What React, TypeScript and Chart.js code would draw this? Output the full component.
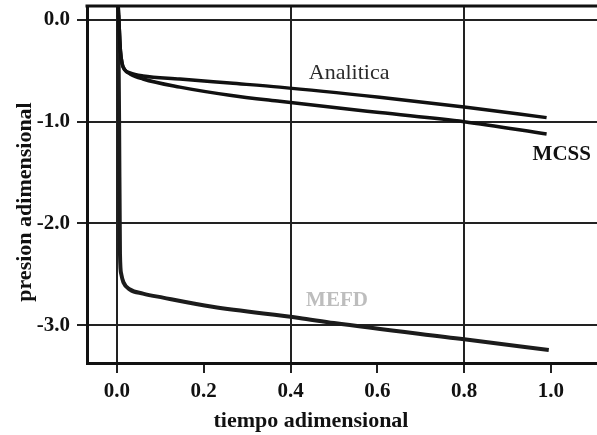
import React, { useEffect, useRef } from "react";
import { Chart, registerables } from "chart.js";

Chart.register(...registerables);

// ---- data ----
const X_TICKS = [0, 0.2, 0.4, 0.6, 0.8, 1.0];
const X_GRID = [0, 0.4, 0.8];
const Y_TICKS = [0, -1, -2, -3];

const ANALITICA_T = [0.003, 0.005, 0.008, 0.012, 0.018, 0.03, 0.06, 0.145, 0.26, 0.375, 0.605, 0.8, 0.99];
const ANALITICA_P = [0.13, -0.05, -0.3, -0.43, -0.49, -0.52, -0.55, -0.58, -0.62, -0.66, -0.76, -0.855, -0.96];

const MCSS_T = [0.003, 0.005, 0.008, 0.012, 0.018, 0.03, 0.06, 0.145, 0.26, 0.375, 0.605, 0.8, 0.99];
const MCSS_P = [0.13, -0.05, -0.3, -0.43, -0.49, -0.53, -0.58, -0.66, -0.74, -0.8, -0.91, -1.0, -1.12];

const MEFD_T = [0.003, 0.005, 0.007, 0.01, 0.015, 0.03, 0.06, 0.106, 0.22, 0.42, 0.5, 0.8, 0.995];
const MEFD_P = [0.05, -1.0, -2.3, -2.5, -2.58, -2.65, -2.69, -2.73, -2.82, -2.93, -2.98, -3.14, -3.245];

const SERIES_NAMES = ["Analitica", "MCSS", "MEFD"];
const X_TITLE = "tiempo adimensional";
const Y_TITLE = "presion adimensional";

const toPts = (t: number[], p: number[]) => t.map((v, i) => ({ x: v, y: p[i] }));

const SERIF = '"Liberation Serif", "Times New Roman", serif';

const decorPlugin = {
  id: "decor",
  afterDraw(chart: any) {
    const { ctx, chartArea, scales } = chart;
    const xs = scales.x;
    const ys = scales.y;
    ctx.save();
    // top frame line
    ctx.strokeStyle = "#111";
    ctx.lineWidth = 3;
    ctx.beginPath();
    ctx.moveTo(chartArea.left - 1.5, chartArea.top);
    ctx.lineTo(chart.width, chartArea.top);
    ctx.stroke();

    ctx.textAlign = "center";
    ctx.textBaseline = "middle";

    // curve labels
    ctx.fillStyle = "#2a2a2a";
    ctx.font = `22px ${SERIF}`;
    ctx.fillText(SERIES_NAMES[0], xs.getPixelForValue(0.535), ys.getPixelForValue(-0.52));
    ctx.fillStyle = "#111";
    ctx.font = `bold 21px ${SERIF}`;
    ctx.fillText(SERIES_NAMES[1], xs.getPixelForValue(1.025), ys.getPixelForValue(-1.32));
    ctx.fillStyle = "#bdbdbd";
    ctx.font = `bold 21px ${SERIF}`;
    ctx.fillText(SERIES_NAMES[2], xs.getPixelForValue(0.507), ys.getPixelForValue(-2.76));

    // axis titles
    ctx.fillStyle = "#111";
    ctx.font = `bold 22px ${SERIF}`;
    ctx.fillText(X_TITLE, 311, 421);
    ctx.translate(25, 202);
    ctx.rotate(-Math.PI / 2);
    ctx.fillText(Y_TITLE, 0, 0);
    ctx.restore();
  },
};

export default function App() {
  const ref = useRef<HTMLCanvasElement | null>(null);

  useEffect(() => {
    if (!ref.current) return;
    const lineDs = (label: string, t: number[], p: number[], w: number, color: string) => ({
      label,
      data: toPts(t, p),
      borderColor: color,
      backgroundColor: color,
      borderWidth: w,
      pointRadius: 0,
      cubicInterpolationMode: "monotone" as const,
      fill: false,
    });

    const chart = new Chart(ref.current, {
      type: "line",
      data: {
        datasets: [
          lineDs(SERIES_NAMES[0], ANALITICA_T, ANALITICA_P, 3.5, "#111"),
          lineDs(SERIES_NAMES[1], MCSS_T, MCSS_P, 3.5, "#111"),
          lineDs(SERIES_NAMES[2], MEFD_T, MEFD_P, 4, "#1c1c1c"),
        ],
      },
      options: {
        responsive: false,
        animation: false,
        layout: { padding: { top: 6, left: 0, right: 0, bottom: 0 } },
        plugins: { legend: { display: false }, tooltip: { enabled: false } },
        scales: {
          x: {
            type: "linear",
            min: -0.069,
            max: -0.069 + 510 / 434,
            afterBuildTicks: (s: any) => {
              s.ticks = X_TICKS.map((v) => ({ value: v }));
            },
            afterFit: (s: any) => {
              s.height = 72;
              s.paddingLeft = 0;
              s.paddingRight = 0;
            },
            border: { display: true, color: "#111", width: 3 },
            grid: {
              color: (c: any) =>
                c.tick && X_GRID.some((g) => Math.abs(g - c.tick.value) < 1e-9) ? "#222" : "rgba(0,0,0,0)",
              tickColor: "#222",
              lineWidth: 2,
              tickLength: 10,
            },
            ticks: {
              color: "#111",
              padding: 6,
              font: { family: SERIF, size: 21, weight: "bold" },
              callback: (v: any) => Number(v).toFixed(1),
            },
          },
          y: {
            type: "linear",
            min: -343 / 101.7,
            max: 14 / 101.7,
            afterBuildTicks: (s: any) => {
              s.ticks = Y_TICKS.map((v) => ({ value: v }));
            },
            afterFit: (s: any) => {
              s.width = 87;
              s.paddingTop = 0;
              s.paddingBottom = 0;
            },
            border: { display: true, color: "#111", width: 3 },
            grid: {
              color: "#222",
              tickColor: "#222",
              lineWidth: 2,
              tickLength: 10,
            },
            ticks: {
              color: "#111",
              padding: 7,
              font: { family: SERIF, size: 21, weight: "bold" },
              callback: (v: any) => Number(v).toFixed(1),
            },
          },
        },
      },
      plugins: [decorPlugin],
    });
    return () => chart.destroy();
  }, []);

  return (
    <div style={{ position: "fixed", left: 0, top: 0, width: 597, height: 435, background: "#fff" }}>
      <canvas ref={ref} width={597} height={435} style={{ width: 597, height: 435, display: "block" }} />
    </div>
  );
}
